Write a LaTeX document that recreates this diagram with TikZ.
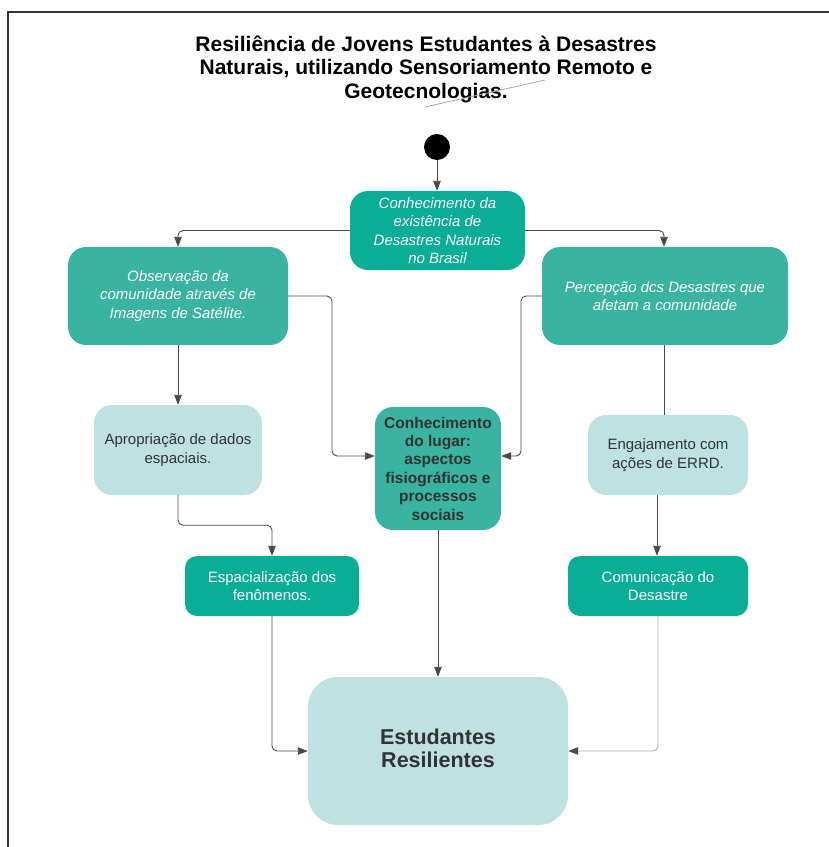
\documentclass[tikz,border=0pt]{standalone}
\usepackage{fontspec}
\setmainfont{Liberation Sans}
\usetikzlibrary{arrows.meta}
\definecolor{tealA}{HTML}{0AAE96}
\definecolor{tealB}{HTML}{39B4A0}
\definecolor{lightC}{HTML}{BEE1E2}
\definecolor{txtD}{HTML}{333333}
\definecolor{lineE}{HTML}{4A4A4A}
\tikzset{
  boxbase/.style={rounded corners=18pt, align=center, inner sep=2pt, font=\fontsize{15}{18.5}\selectfont},
  darkbox/.style={boxbase, fill=tealA, text=white},
  midbox/.style={boxbase, fill=tealB, text=white},
  lightbox/.style={boxbase, fill=lightC, text=txtD},
  conn/.style={draw=lineE, line width=0.9pt, rounded corners=5pt},
  arr/.style={conn, -{Triangle[length=10pt,width=7.5pt,color=lineE]}},
}
\begin{document}
\begin{tikzpicture}[x=1pt,y=-1pt]
\useasboundingbox (0,0) rectangle (829,847);
% frame
\draw[line width=1.4pt, draw=txtD] (8,847) -- (8,12) -- (829,12);
% title
\node[align=center, font=\bfseries\fontsize{21}{23.5}\selectfont, text=black] (title) at (426,69)
  {Resiliência de Jovens Estudantes à Desastres\\Naturais, utilizando Sensoriamento Remoto e\\Geotecnologias.};
\coordinate (s1) at (425,107);
\coordinate (s2) at (545,80);
\draw[draw=gray!70, line width=0.8pt] (s1) -- (s2);
% start
\node[circle, fill=black, minimum size=26pt, inner sep=0pt] (start) at (437,147) {};
% boxes
\node[darkbox, minimum width=175pt, minimum height=79pt] (b1) at (437.5,230.5)
  {\itshape Conhecimento da\\\itshape existência de\\\itshape Desastres Naturais\\\itshape no Brasil};
\node[midbox, minimum width=220pt, minimum height=98pt] (b2) at (178,296)
  {\itshape Observação da\\\itshape comunidade através de\\\itshape Imagens de Satélite.};
\node[midbox, minimum width=246pt, minimum height=98pt] (b3) at (665,296)
  {\itshape Percepção dcs Desastres que\\\itshape afetam a comunidade};
\node[lightbox, minimum width=168pt, minimum height=90pt] (b4) at (178,450)
  {Apropriação de dados\\espaciais.};
\node[midbox, text=txtD, font=\bfseries\fontsize{15.5}{18.4}\selectfont, minimum width=126pt, minimum height=123pt] (b5) at (438,468.5)
  {Conhecimento\\do lugar:\\aspectos\\fisiográficos e\\processos\\sociais};
\node[lightbox, minimum width=160pt, minimum height=80pt] (b6) at (668,455)
  {Engajamento com\\ações de ERRD.};
\node[darkbox, rounded corners=12pt, minimum width=174pt, minimum height=60pt] (b7) at (272,586)
  {Espacialização dos\\fenômenos.};
\node[darkbox, rounded corners=12pt, minimum width=180pt, minimum height=60pt] (b8) at (658,586)
  {Comunicação do\\Desastre};
\node[lightbox, rounded corners=30pt, font=\bfseries\fontsize{21.5}{25}\selectfont, minimum width=260pt, minimum height=148pt] (b9) at (438,751)
  {\raisebox{3pt}{\begin{tabular}{@{}c@{}}Estudantes\\[-2pt]Resilientes\end{tabular}}};
% connectors
\draw[arr] (start) -- (b1.north -| start);
\draw[arr] (b1.west) -| (b2.north);
\draw[arr] (b1.east) -| ([xshift=-1pt]b3.north);
\draw[arr] (b2.south) -- (b4.north);
\coordinate (c1) at (332,456);
\draw[arr] (b2.east) -| (c1) -- ([yshift=12.5pt]b5.west);
\coordinate (c2) at (521,456);
\draw[arr] (b3.west) -| (c2) -- ([yshift=12.5pt]b5.east);
\draw[conn] ([xshift=-1pt]b3.south) -- ([xshift=-4pt]b6.north);
\draw[arr] (b4.south) -- ++(0,30) -| (b7.north);
\draw[arr] ([xshift=-11pt]b6.south) -- ([xshift=-1pt]b8.north);
\draw[arr] (b5.south) -- (b9.north);
\draw[arr] (b7.south) |- (b9.west);
\draw[arr, draw=gray!60] (b8.south) |- (b9.east);
\end{tikzpicture}
\end{document}
